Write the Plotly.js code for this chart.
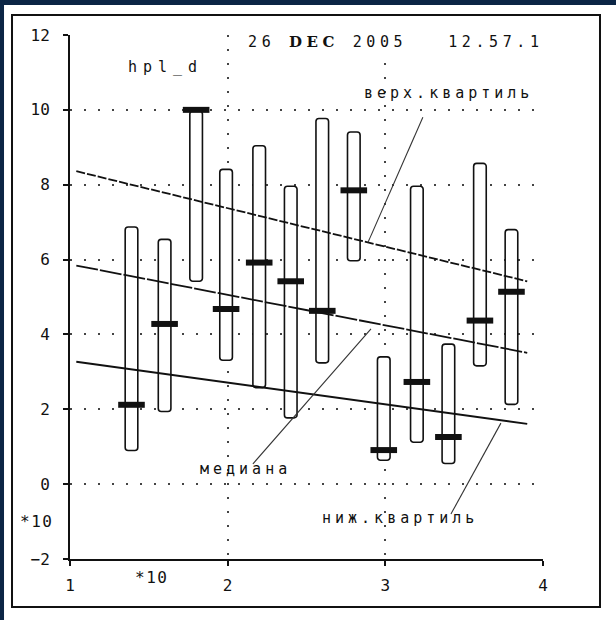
<!DOCTYPE html>
<html>
<head>
<meta charset="utf-8">
<script src="https://cdn.plot.ly/plotly-3.0.1.min.js"></script>
<style>
  html, body { margin: 0; padding: 0; background: #ffffff; }
  #chart { width: 616px; height: 620px; }
</style>
</head>
<body>
<div id="chart"></div>
<script>
// Range bars: position, lower end, upper end, median
const boxX    = [1.39, 1.60, 1.80, 1.99, 2.20, 2.40, 2.60, 2.80, 2.99, 3.20, 3.40, 3.60, 3.80];
const boxLow  = [0.90, 1.94, 5.42, 3.31, 2.58, 1.77, 3.24, 5.97, 0.64, 1.12, 0.55, 3.16, 2.13];
const boxHigh = [6.87, 6.54, 9.97, 8.41, 9.04, 7.96, 9.77, 9.41, 3.40, 7.96, 3.74, 8.57, 6.80];
const boxMed  = [2.12, 4.28, 10.0, 4.68, 5.92, 5.42, 4.63, 7.85, 0.91, 2.73, 1.26, 4.37, 5.14];

// Trend lines (start / end)
const trendX     = [1.04, 3.90];
const upperQuart = [8.36, 5.42];
const medianLine = [5.84, 3.51];
const lowerQuart = [3.27, 1.61];

// Leader lines from labels to trend lines
const leadUpperX = [3.238, 2.890], leadUpperY = [9.80, 6.46];
const leadMedX   = [2.909, 2.160], leadMedY   = [4.15, 0.54];
const leadLowX   = [3.733, 3.416], leadLowY   = [1.63, -0.80];

// Axis ticks
const xTicks = [1, 2, 3, 4];
const xTickText = ['1', '2', '3', '4'];
const yTicks = [-2, 0, 2, 4, 6, 8, 10, 12];
const yTickText = ['\u22122', '0', '2', '4', '6', '8', '10', '12'];

// Labels
const titleText = '26&nbsp;<span style="font-family:\'DejaVu Serif\'"><b>DEC</b></span>&nbsp;2005&nbsp;&nbsp;&nbsp;12.57.1';
const varName = 'hpl_d';
const labUpper = 'верх.квартиль';
const labMedian = 'медиана';
const labLower = 'ниж.квартиль';
const scaleNote = '*10';

const MONO = "'DejaVu Sans Mono', 'Liberation Mono', monospace";
const INK = '#111111';
const spaced = (t, px) => '<span style="letter-spacing:' + px + 'px">' + t + '</span>';

const traces = [
  {
    type: 'bar',
    x: boxX,
    base: boxLow,
    y: boxHigh.map((h, i) => h - boxLow[i]),
    width: 0.08,
    marker: { color: '#ffffff', line: { color: INK, width: 1.6 }, cornerradius: 3 },
    hoverinfo: 'skip'
  },
  { type: 'scatter', mode: 'lines', x: trendX, y: upperQuart,
    line: { color: INK, width: 1.8, dash: '9px,2px' }, hoverinfo: 'skip' },
  { type: 'scatter', mode: 'lines', x: trendX, y: medianLine,
    line: { color: INK, width: 1.8, dash: '22px,2px' }, hoverinfo: 'skip' },
  { type: 'scatter', mode: 'lines', x: trendX, y: lowerQuart,
    line: { color: INK, width: 1.8 }, hoverinfo: 'skip' },
  { type: 'scatter', mode: 'lines', x: leadUpperX, y: leadUpperY,
    line: { color: '#333', width: 1.1 }, hoverinfo: 'skip' },
  { type: 'scatter', mode: 'lines', x: leadMedX, y: leadMedY,
    line: { color: '#333', width: 1.1 }, hoverinfo: 'skip' },
  { type: 'scatter', mode: 'lines', x: leadLowX, y: leadLowY,
    line: { color: '#333', width: 1.1 }, hoverinfo: 'skip' },
  {
    type: 'scatter', mode: 'markers', x: boxX, y: boxMed,
    marker: { symbol: 'line-ew', size: 19, color: INK, line: { color: INK, width: 6 } },
    hoverinfo: 'skip'
  }
];

const axisCommon = {
  showline: true, linecolor: INK, linewidth: 2,
  ticks: 'outside', ticklen: 5, tickwidth: 2, tickcolor: INK,
  showgrid: true, gridcolor: '#444', gridwidth: 2, griddash: '2px,12px',
  zeroline: false, tickfont: { family: MONO, size: 16, color: INK },
  fixedrange: true
};

const layout = {
  width: 616, height: 620,
  margin: { l: 70, r: 73, t: 35, b: 61 },
  paper_bgcolor: '#ffffff', plot_bgcolor: '#ffffff',
  showlegend: false,
  xaxis: Object.assign({}, axisCommon, {
    range: [1, 4], tickmode: 'array', tickvals: xTicks, ticktext: xTickText,
    ticklabelstandoff: 6
  }),
  yaxis: Object.assign({}, axisCommon, {
    range: [-2, 12], tickmode: 'array', tickvals: yTicks, ticktext: yTickText,
    ticklabelstandoff: 10
  }),
  shapes: [
    // outer frame
    { type: 'rect', xref: 'paper', yref: 'paper', x0: -0.1226, x1: 1.1205, y0: -0.0916, y1: 1.038,
      line: { color: INK, width: 2 }, fillcolor: 'rgba(0,0,0,0)', layer: 'below' },
    // navy window edge (top and left)
    { type: 'rect', xref: 'paper', yref: 'paper', x0: -0.16, x1: 1.2, y0: 1.0573, y1: 1.08,
      line: { width: 0 }, fillcolor: '#0b2545' },
    { type: 'rect', xref: 'paper', yref: 'paper', x0: -0.16, x1: -0.1395, y0: -0.2, y1: 1.08,
      line: { width: 0 }, fillcolor: '#0b2545' }
  ],
  annotations: [
    { text: spaced(titleText, 4.6), xref: 'x', yref: 'y', x: 2.09, y: 11.81,
      xanchor: 'left', yanchor: 'middle', showarrow: false, bgcolor: '#ffffff', borderpad: 5,
      font: { family: MONO, size: 15, color: INK } },
    { text: spaced(varName, 6), xref: 'x', yref: 'y', x: 1.355, y: 11.14,
      xanchor: 'left', yanchor: 'middle', showarrow: false,
      font: { family: MONO, size: 15, color: INK } },
    { text: spaced(labUpper, 4), xref: 'x', yref: 'y', x: 2.855, y: 10.45,
      xanchor: 'left', yanchor: 'middle', showarrow: false,
      font: { family: MONO, size: 15, color: INK } },
    { text: spaced(labMedian, 4), xref: 'x', yref: 'y', x: 1.81, y: 0.40,
      xanchor: 'left', yanchor: 'middle', showarrow: false,
      font: { family: MONO, size: 15, color: INK } },
    { text: spaced(labLower, 4), xref: 'x', yref: 'y', x: 2.588, y: -0.91,
      xanchor: 'left', yanchor: 'middle', showarrow: false,
      font: { family: MONO, size: 15, color: INK } },
    { text: spaced(scaleNote, 1.5), xref: 'x', yref: 'paper', x: 1.52, y: -0.036,
      xanchor: 'center', yanchor: 'middle', showarrow: false,
      font: { family: MONO, size: 16, color: INK } },
    { text: spaced(scaleNote, 1.5), xref: 'paper', yref: 'y', x: -0.07, y: -0.99,
      xanchor: 'center', yanchor: 'middle', showarrow: false,
      font: { family: MONO, size: 16, color: INK } }
  ]
};

Plotly.newPlot('chart', traces, layout, { staticPlot: true, displayModeBar: false });
</script>
</body>
</html>
